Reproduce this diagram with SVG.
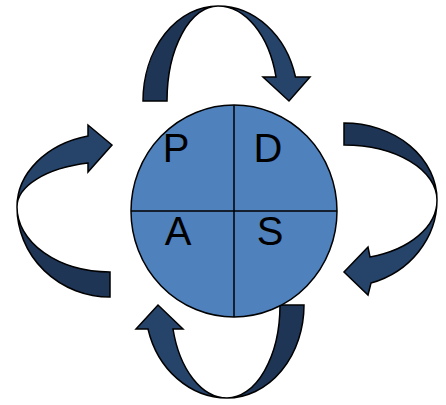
<svg xmlns="http://www.w3.org/2000/svg" width="446" height="405" viewBox="0 0 446 405">
<style>
.back{fill:#1f3556;stroke:#000;stroke-width:1.5;stroke-linejoin:miter}
.front{fill:#26436a;stroke:#000;stroke-width:1.5;stroke-linejoin:miter}
.circ{fill:#4f81bd;stroke:#000;stroke-width:1.5}
.div{stroke:#000;stroke-width:1.5;fill:none}
.lbl{font-family:"Liberation Sans",Arial,sans-serif;font-size:40px;fill:#000;text-anchor:middle}
</style>
<rect width="446" height="405" fill="#fff"/>
<g id="connectors">
<g id="arrow-top">
<path class="back" d="M143,101 A75,95 0 0 1 218,6 A51,95 0 0 0 167,101 Z"/>
<path class="front" d="M218,6 A80,95 0 0 1 295.5,77 L310,77 L289,101 L263,77 L276,77 A60,95 0 0 0 218,6 Z"/>
</g>
<g id="arrow-right">
<path class="back" d="M344,123 A93,77 0 0 1 437,200 A93,55 0 0 0 344,145 Z"/>
<path class="front" d="M437,200 A93,87 0 0 1 371,283 L368,295 L344,272 L368,247 L370,257 A93,59 0 0 0 437,200 Z"/>
</g>
<g id="arrow-bottom">
<path class="back" d="M304,305 A77,93 0 0 1 227,398 A53,93 0 0 0 280,305 Z"/>
<path class="front" d="M227,398 A82,93 0 0 1 148,329 L136,329 L158,305 L183,329 L173,329 A56,93 0 0 0 227,398 Z"/>
</g>
<g id="arrow-left">
<path class="back" d="M110,297 A93,90 0 0 1 17,207 A93,65 0 0 0 110,272 Z"/>
<path class="front" d="M17,207 A93,73 0 0 1 88,136 L88,125 L112,145 L88,172 L88,163 A93,45 0 0 0 17,207 Z"/>
</g>
</g>
<g id="cycle">
<ellipse class="circ" cx="234" cy="211" rx="103" ry="106"/>
<line class="div" x1="234" y1="105" x2="234" y2="317"/>
<line class="div" x1="131" y1="211" x2="337" y2="211"/>
</g>
<g id="node-P"><text class="lbl" x="176" y="162">P</text></g>
<g id="node-D"><text class="lbl" x="268" y="162">D</text></g>
<g id="node-A"><text class="lbl" x="178" y="245">A</text></g>
<g id="node-S"><text class="lbl" x="270" y="245">S</text></g>
</svg>
